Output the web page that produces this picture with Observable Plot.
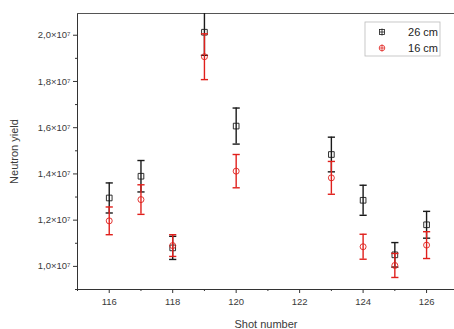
<!DOCTYPE html>
<html>
<head>
<meta charset="utf-8">
<script src="https://cdn.jsdelivr.net/npm/d3@7"></script>
<script src="https://cdn.jsdelivr.net/npm/@observablehq/plot@0.6"></script>
<style>
  html, body { margin: 0; padding: 0; background: #fff; }
  #chart { position: relative; width: 454px; height: 329px; }
  svg { font-family: "Liberation Sans", Arial, sans-serif; }
</style>
</head>
<body>
<div id="chart"></div>
<script>
// ---- data ----
const shots = [116, 117, 118, 119, 120, 123, 124, 125, 126];
const yield26 = [1.296e7, 1.39e7, 1.08e7, 2.013e7, 1.607e7, 1.484e7, 1.286e7, 1.05e7, 1.18e7];
const err26   = [0.065e7, 0.068e7, 0.05e7, 0.1e7, 0.078e7, 0.075e7, 0.065e7, 0.053e7, 0.058e7];
const yield16 = [1.197e7, 1.289e7, 1.09e7, 1.907e7, 1.412e7, 1.383e7, 1.085e7, 1.004e7, 1.092e7];
const err16   = [0.06e7, 0.064e7, 0.047e7, 0.099e7, 0.072e7, 0.071e7, 0.054e7, 0.052e7, 0.058e7];
const seriesNames = ["26 cm", "16 cm"];
const seriesColors = ["#1a1a1a", "#e0201c"];
const xMajorTicks = [116, 118, 120, 122, 124, 126];
const xMinorTicks = [115, 117, 119, 121, 123, 125, 127];
const yMajorTicks = [1.0e7, 1.2e7, 1.4e7, 1.6e7, 1.8e7, 2.0e7];
const yMinorTicks = [0.9e7, 1.1e7, 1.3e7, 1.5e7, 1.7e7, 1.9e7, 2.1e7];
const xDomain = [115, 126.88];
const yDomain = [0.9e7, 2.094e7];

const d26 = shots.map((s, i) => ({shot: s, y: yield26[i], e: err26[i]}));
const d16 = shots.map((s, i) => ({shot: s, y: yield16[i], e: err16[i]}));

const cap = {draw(ctx, size) { const w = Math.sqrt(size / Math.PI); ctx.moveTo(-w, 0); ctx.lineTo(w, 0); }};
const fmtY = d => (d / 1e7).toFixed(1).replace(".", ",") + "×10⁷";
const axisColor = "#333";

function errorMarks(data, color, symbol, r) {
  return [
    Plot.ruleX(data, {x: "shot", y1: d => d.y - d.e, y2: d => d.y + d.e, stroke: color, strokeWidth: 1.4, clip: true}),
    Plot.dot(data, {x: "shot", y: d => d.y + d.e, symbol: cap, r: 3.6, stroke: color, strokeWidth: 1.4, clip: true}),
    Plot.dot(data, {x: "shot", y: d => d.y - d.e, symbol: cap, r: 3.6, stroke: color, strokeWidth: 1.4, clip: true}),
    Plot.dot(data, {x: "shot", y: "y", symbol, r, stroke: color, strokeWidth: 0.9, fill: "none"})
  ];
}

const chart = Plot.plot({
  width: 454,
  height: 329,
  marginLeft: 77,
  marginRight: 0,
  marginTop: 13,
  marginBottom: 40,
  style: {fontFamily: "Liberation Sans, Arial, sans-serif", color: "#3a3a3a", background: "white"},
  x: {domain: xDomain},
  y: {domain: yDomain},
  marks: [
    Plot.ruleX([xDomain[0]], {stroke: axisColor, strokeWidth: 1}),
    Plot.ruleY([yDomain[0]], {stroke: axisColor, strokeWidth: 1}),
    Plot.ruleY([yDomain[1]], {stroke: "#555", strokeWidth: 1}),
    Plot.axisY({ticks: yMajorTicks, tickSize: 4, tickPadding: 3, tickFormat: fmtY, fontSize: 9.5, label: null, stroke: axisColor}),
    Plot.axisY({ticks: yMinorTicks.filter(t => t <= yDomain[1]), tickSize: 2, tickFormat: () => "", label: null, stroke: axisColor}),
    Plot.axisY({ticks: [], tickSize: 0, label: "Neutron yield", labelArrow: "none", labelAnchor: "center", labelOffset: 67, fontSize: 11}),
    Plot.axisX({ticks: xMajorTicks, tickSize: 4, tickPadding: 5, fontSize: 9.5, label: null, stroke: axisColor}),
    Plot.axisX({ticks: xMinorTicks.filter(t => t <= xDomain[1]), tickSize: 2, tickFormat: () => "", label: null, stroke: axisColor}),
    Plot.axisX({ticks: [], tickSize: 0, label: "Shot number", labelArrow: "none", labelAnchor: "center", labelOffset: 38, fontSize: 11}),
    ...errorMarks(d26, seriesColors[0], "square", 3.2),
    ...errorMarks(d16, seriesColors[1], "circle", 3)
  ]
});
document.getElementById("chart").appendChild(chart);

// ---- legend (inside plot, top right) ----
const svg = d3.select(chart);
const lg = svg.append("g").attr("transform", "translate(365,22)");
lg.append("rect").attr("width", 75).attr("height", 34).attr("fill", "white").attr("stroke", "#bbb").attr("stroke-width", 0.8);
seriesNames.forEach((name, i) => {
  const cy = 10 + i * 16;
  const g = lg.append("g").attr("transform", `translate(17,${cy})`);
  const col = seriesColors[i];
  if (i === 0) g.append("rect").attr("x", -2.5).attr("y", -2.5).attr("width", 5).attr("height", 5).attr("fill", "none").attr("stroke", col).attr("stroke-width", 0.8);
  else g.append("circle").attr("r", 2.8).attr("fill", "none").attr("stroke", col).attr("stroke-width", 0.8);
  g.append("line").attr("x1", 0).attr("x2", 0).attr("y1", -3.5).attr("y2", 3.5).attr("stroke", col).attr("stroke-width", 0.8);
  g.append("line").attr("x1", -2.5).attr("x2", 2.5).attr("y1", 0).attr("y2", 0).attr("stroke", col).attr("stroke-width", 0.8);
  lg.append("text").attr("x", 73).attr("y", cy).attr("dy", "0.35em").attr("text-anchor", "end")
    .attr("font-size", 11).attr("fill", "#222").text(name);
});
</script>
</body>
</html>
